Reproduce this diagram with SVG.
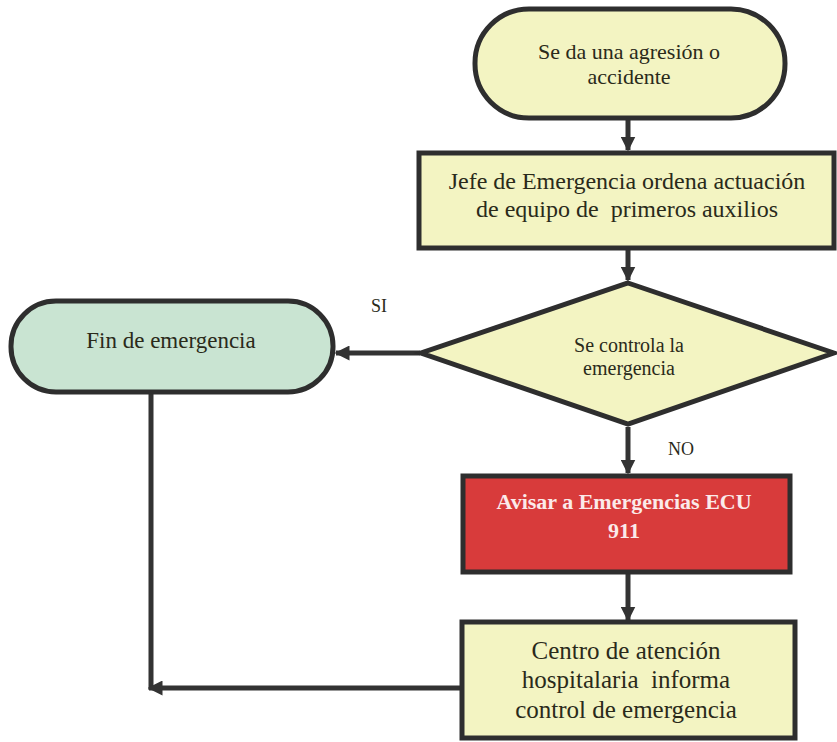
<svg xmlns="http://www.w3.org/2000/svg" width="837" height="742" viewBox="0 0 837 742">
<style>
.shape{stroke:#2e2e2e;stroke-width:5}
.y{fill:#f3f4c2}
.g{fill:#c9e4d2}
.r{fill:#d83b3b}
text{font-family:"Liberation Serif","Times New Roman",serif;fill:#2a2a1a;text-anchor:middle;white-space:pre}
.w{fill:#fbeaea;font-weight:bold}
.conn{stroke:#333;stroke-width:5;fill:none}
</style>
<defs>
<marker id="ah" viewBox="0 0 10 10" refX="9" refY="5" markerWidth="3" markerHeight="3" orient="auto" markerUnits="strokeWidth">
<path d="M0,0 L10,5 L0,10 z" fill="#333"/>
</marker>
</defs>
<rect width="837" height="742" fill="#fff"/>
<g id="connectors">
<line class="conn" x1="628" y1="120" x2="628" y2="150" marker-end="url(#ah)"/>
<line class="conn" x1="628" y1="250" x2="628" y2="280" marker-end="url(#ah)"/>
<line class="conn" x1="420" y1="353" x2="336" y2="353" marker-end="url(#ah)"/>
<line class="conn" x1="628" y1="427" x2="628" y2="473" marker-end="url(#ah)"/>
<line class="conn" x1="628" y1="574" x2="628" y2="620" marker-end="url(#ah)"/>
<line class="conn" x1="151" y1="393" x2="151" y2="690"/>
<line class="conn" x1="460" y1="688" x2="149" y2="688" marker-end="url(#ah)"/>
<text x="379" y="312" font-size="18">SI</text>
<text x="681" y="455" font-size="18">NO</text>
</g>
<g id="start">
<rect class="shape y" x="475" y="9" width="310" height="109" rx="54" ry="54"/>
<text x="629" y="59" font-size="22">Se da una agresión o</text>
<text x="629" y="84" font-size="22">accidente</text>
</g>
<g id="jefe">
<rect class="shape y" x="419" y="153" width="415" height="95"/>
<text x="627" y="189" font-size="24">Jefe de Emergencia ordena actuación</text>
<text x="627" y="217" font-size="24">de equipo de  primeros auxilios</text>
</g>
<g id="decision">
<polygon class="shape y" points="628,283 834,353 628,424 421,353"/>
<text x="629" y="352" font-size="20">Se controla la</text>
<text x="629" y="375" font-size="20">emergencia</text>
</g>
<g id="fin">
<rect class="shape g" x="11" y="301" width="322" height="91" rx="45" ry="45"/>
<text x="171" y="348" font-size="23">Fin de emergencia</text>
</g>
<g id="avisar">
<rect class="shape r" x="463" y="476" width="327" height="96"/>
<text class="w" x="624" y="509" font-size="22">Avisar a Emergencias ECU</text>
<text class="w" x="624" y="538" font-size="22">911</text>
</g>
<g id="centro">
<rect class="shape y" x="462" y="622" width="333" height="116"/>
<text x="626" y="659" font-size="25">Centro de atención</text>
<text x="626" y="688" font-size="25">hospitalaria  informa</text>
<text x="626" y="718" font-size="25">control de emergencia</text>
</g>
</svg>
